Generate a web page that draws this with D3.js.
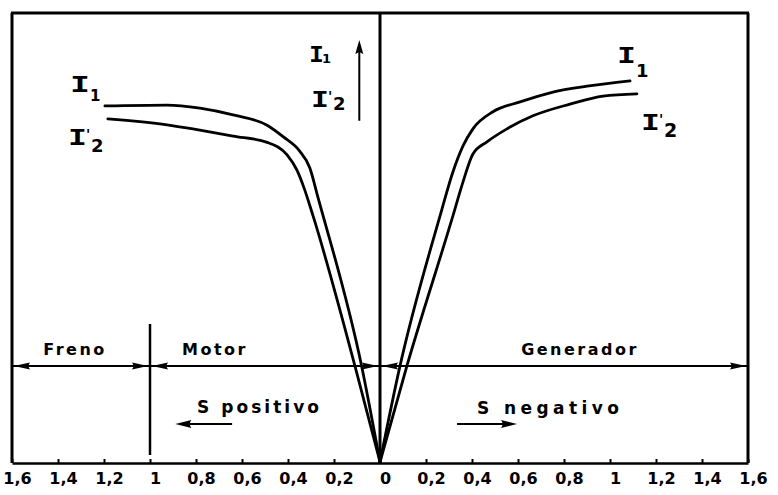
<!DOCTYPE html>
<html><head><meta charset="utf-8">
<script src="https://cdn.jsdelivr.net/npm/d3@7/dist/d3.min.js"></script>
<style>body{margin:0;background:#fff}svg{display:block}</style>
</head><body><svg id="c" width="778" height="495"></svg>
<script>
// ---- data (slip s, current I in arbitrary units) ----
const slipTicks = [1.6,1.4,1.2,1.0,0.8,0.6,0.4,0.2,0,-0.2,-0.4,-0.6,-0.8,-1.0,-1.2,-1.4,-1.6];
const regionNames = ["Freno","Motor","Generador"];
const regionBounds = [1.6, 1.0, 0, -1.6];

const i1MotorSlip    = [1.196,0.926,0.783,0.639,0.491,0.420,0.350,0.305,0.270,0.080,0];
const i1MotorCurrent = [7.93,7.95,7.88,7.73,7.50,7.24,6.93,6.55,5.90,2.14,0];
const i2MotorSlip    = [1.183,0.926,0.783,0.639,0.491,0.404,0.361,0.330,0.291,0.109,0];
const i2MotorCurrent = [7.64,7.51,7.39,7.26,7.12,6.84,6.50,6.10,5.48,2.14,0];
const i1GenSlip      = [0,-0.087,-0.261,-0.317,-0.361,-0.404,-0.491,-0.609,-0.752,-0.900,-1.087];
const i1GenCurrent   = [0,2.14,5.48,6.46,7.04,7.42,7.80,8.02,8.24,8.37,8.49];
const i2GenSlip      = [0,-0.117,-0.317,-0.361,-0.404,-0.465,-0.552,-0.665,-0.826,-0.970,-1.117];
const i2GenCurrent   = [0,2.14,5.48,6.24,6.86,7.13,7.42,7.71,7.97,8.15,8.20];

// ---- scales ----
const svg = d3.select("#c");
const x = d3.scaleLinear().domain([1.6,-1.6]).range([12,748]);
const y = d3.scaleLinear().domain([0,10]).range([462,13]);
const yBottom = 463, yTop = 13;

const ink = "#000";
const fmt = v => { let a = Math.abs(v); let s = (Math.round(a*10)/10).toFixed(1); if (s.endsWith(".0")) s = s.slice(0,-2); return s.replace(".", ","); };

// frame
const frame = svg.append("g").attr("stroke", ink).attr("fill","none");
frame.append("line").attr("x1",x(1.6)).attr("x2",x(1.6)).attr("y1",yTop).attr("y2",yBottom).attr("stroke-width",3);
frame.append("line").attr("x1",x(-1.6)).attr("x2",x(-1.6)).attr("y1",yTop).attr("y2",yBottom).attr("stroke-width",3);
frame.append("line").attr("x1",x(1.6)-1).attr("x2",x(-1.6)+1).attr("y1",yTop).attr("y2",yTop).attr("stroke-width",3);
frame.append("line").attr("x1",x(0)).attr("x2",x(0)).attr("y1",yTop).attr("y2",yBottom).attr("stroke-width",3);
frame.append("line").attr("x1",x(1.0)).attr("x2",x(1.0)).attr("y1",324).attr("y2",455).attr("stroke-width",2.5);

// bottom axis
const axis = d3.axisBottom(x).tickValues(slipTicks).tickFormat(fmt).tickSizeInner(-4).tickSizeOuter(0).tickPadding(10);
const ag = svg.append("g").attr("transform",`translate(0,${yBottom})`).call(axis);
ag.select(".domain").attr("stroke",ink).attr("stroke-width",2.5);
ag.selectAll(".tick line").attr("stroke",ink).attr("stroke-width",2);
ag.selectAll(".tick text").attr("fill",ink).attr("font-family","DejaVu Sans").attr("font-weight","bold")
  .attr("font-size",16).attr("dx",5);

// curves
const line = d3.line().x(d=>x(d[0])).y(d=>y(d[1])).curve(d3.curveMonotoneX);
const series = [
  [i1MotorSlip,i1MotorCurrent],[i2MotorSlip,i2MotorCurrent],
  [i1GenSlip,i1GenCurrent],[i2GenSlip,i2GenCurrent]
];
svg.append("g").selectAll("path").data(series).join("path")
  .attr("d", s => line(s[0].map((v,i)=>[v, s[1][i]])))
  .attr("fill","none").attr("stroke",ink).attr("stroke-width",2.8).attr("stroke-linecap","round").attr("stroke-linejoin","round");

// arrowhead helper
function head(tx, ty, dir, len=16, w=3.5){
  const [dx,dy]=dir, bx=tx-dx*len, by=ty-dy*len, nx=-dy*w, ny=dx*w;
  svg.append("path").attr("d",`M${tx},${ty}L${bx+nx},${by+ny}L${bx+dx*2},${by+dy*2}L${bx-nx},${by-ny}Z`).attr("fill",ink);
}

// region arrows
const yReg = 366;
svg.append("line").attr("x1",x(1.6)).attr("x2",x(-1.6)).attr("y1",yReg).attr("y2",yReg).attr("stroke",ink).attr("stroke-width",2);
for (let i=0;i<regionNames.length;i++){
  const a = x(regionBounds[i]), b = x(regionBounds[i+1]);
  head(a+2, yReg, [-1,0]);
  head(b-2, yReg, [1,0]);
}
const regionLabelX = [75, 215, 580];
svg.append("g").selectAll("text").data(regionNames).join("text")
  .attr("x",(d,i)=>regionLabelX[i]).attr("y",355).attr("text-anchor","middle")
  .attr("font-family","DejaVu Sans").attr("font-weight","bold").attr("font-size",16).attr("letter-spacing",2.5)
  .attr("fill",ink).text(d=>d);

// S positivo / S negativo
const sText = svg.append("g").attr("font-family","DejaVu Sans").attr("font-weight","bold").attr("font-size",17).attr("fill",ink).attr("letter-spacing",3).style("white-space","pre");
sText.append("text").attr("x",197).attr("y",413).attr("textLength",125).text("S  positivo");
sText.append("text").attr("x",477).attr("y",414).attr("textLength",145).text("S  negativo");
svg.append("line").attr("x1",x(0.643)).attr("x2",x(0.86)).attr("y1",424).attr("y2",424).attr("stroke",ink).attr("stroke-width",2);
head(x(0.89), 424, [-1,0], 16, 4);
svg.append("line").attr("x1",x(-0.335)).attr("x2",x(-0.57)).attr("y1",424).attr("y2",424).attr("stroke",ink).attr("stroke-width",2);
head(x(-0.596), 424, [1,0], 16, 4);

// vertical current arrow
svg.append("line").attr("x1",x(0.09)).attr("x2",x(0.09)).attr("y1",y(7.6)).attr("y2",y(9.2)).attr("stroke",ink).attr("stroke-width",2);
head(x(0.09), y(9.4), [0,-1], 14, 4);

// I labels (one text element each)
const labels = svg.append("g").attr("fill",ink).attr("font-weight","bold");
function iLabel(ix, iy, iw, isz, prime, sub, sx, sy, ssz){
  const t = labels.append("text").attr("x",ix).attr("y",iy).attr("font-family","DejaVu Sans");
  t.append("tspan").attr("font-family","DejaVu Sans Mono").attr("font-size",isz)
    .attr("textLength",iw).attr("lengthAdjust","spacingAndGlyphs").text("I");
  if (prime) {
    t.append("tspan").attr("x",ix+iw-1).attr("y",iy-6).attr("font-size",14).text("'");
    sx = ix+iw+4;
  }
  t.append("tspan").attr("x",sx).attr("y",sy).attr("font-size",ssz).text(sub);
}
iLabel(70, 92, 20, 21, false, "1", 90, 101, 15);
iLabel(68, 145, 19, 21, true, "2", 88, 152, 18);
iLabel(309, 62, 15, 21, false, "1", 322, 63, 13);
iLabel(311, 107, 18, 21, true, "2", 330, 110, 18);
iLabel(617, 63, 19, 21, false, "1", 636, 77, 18);
iLabel(641, 130, 19, 21, true, "2", 663, 137, 19);
</script></body></html>
